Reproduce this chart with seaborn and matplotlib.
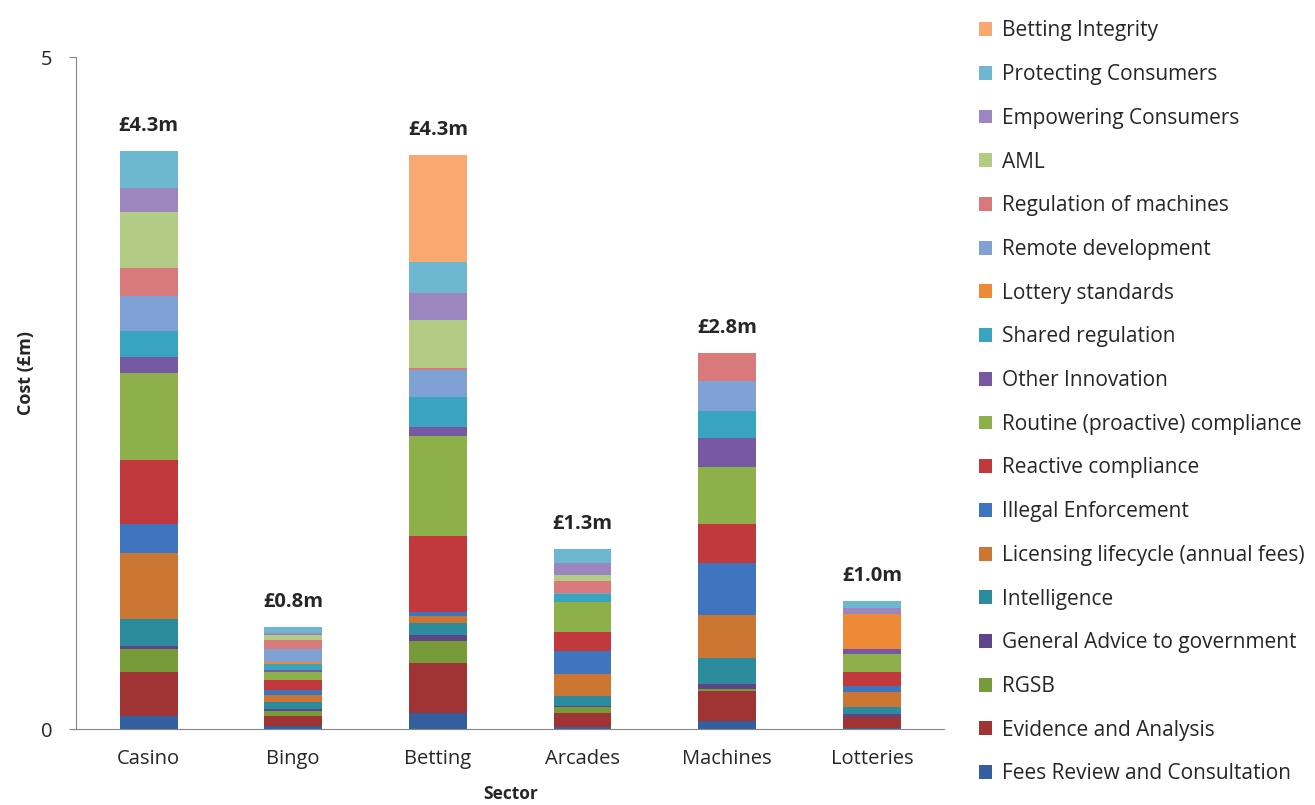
import pandas as pd
import numpy as np
import seaborn as sns
import matplotlib.pyplot as plt
from matplotlib.patches import Patch

sns.set_style('white')
plt.rcParams['font.family'] = ['Open Sans', 'DejaVu Sans']

sectors = ['Casino', 'Bingo', 'Betting', 'Arcades', 'Machines', 'Lotteries']
totals = ['£4.3m', '£0.8m', '£4.3m', '£1.3m', '£2.8m', '£1.0m']

# activities, top of the stack first (same order as the legend)
activities = ['Betting Integrity', 'Protecting Consumers', 'Empowering Consumers', 'AML',
              'Regulation of machines', 'Remote development', 'Lottery standards',
              'Shared regulation', 'Other Innovation', 'Routine (proactive) compliance',
              'Reactive compliance', 'Illegal Enforcement', 'Licensing lifecycle (annual fees)',
              'Intelligence', 'General Advice to government', 'RGSB',
              'Evidence and Analysis', 'Fees Review and Consultation']

colors = ['#F9A86F', '#6DB8D0', '#9C86BF', '#B2CC85', '#D8797B', '#7FA1D3', '#EE8A37',
          '#38A4BE', '#7758A2', '#8DB04A', '#C1393D', '#3F74BF', '#CB7632', '#2D8B9E',
          '#5D4587', '#789B3A', '#A03434', '#345F9F']

# cost (£m) per sector:   Casino  Bingo  Betting Arcades Machines Lotteries
betting_integrity  = [0.0,   0.0,   0.80,  0.0,   0.0,   0.0]
protecting         = [0.27,  0.05,  0.23,  0.10,  0.0,   0.05]
empowering         = [0.18,  0.01,  0.20,  0.09,  0.0,   0.045]
aml                = [0.42,  0.04,  0.36,  0.045, 0.0,   0.0]
reg_machines       = [0.21,  0.065, 0.015, 0.09,  0.21,  0.0]
remote_dev         = [0.26,  0.10,  0.20,  0.01,  0.22,  0.0]
lottery_standards  = [0.0,   0.015, 0.0,   0.0,   0.0,   0.26]
shared_regulation  = [0.19,  0.04,  0.22,  0.06,  0.20,  0.0]
other_innovation   = [0.12,  0.02,  0.07,  0.0,   0.22,  0.037]
routine_compliance = [0.65,  0.06,  0.74,  0.22,  0.42,  0.135]
reactive           = [0.47,  0.075, 0.57,  0.14,  0.29,  0.105]
illegal            = [0.22,  0.035, 0.03,  0.17,  0.39,  0.045]
licensing          = [0.49,  0.05,  0.05,  0.165, 0.32,  0.11]
intelligence       = [0.20,  0.05,  0.09,  0.075, 0.19,  0.052]
general_advice     = [0.02,  0.02,  0.04,  0.01,  0.04,  0.022]
rgsb               = [0.17,  0.037, 0.17,  0.045, 0.015, 0.0]
evidence           = [0.33,  0.075, 0.37,  0.105, 0.22,  0.08]
fees_review        = [0.10,  0.022, 0.12,  0.015, 0.065, 0.012]

series = [betting_integrity, protecting, empowering, aml, reg_machines, remote_dev,
          lottery_standards, shared_regulation, other_innovation, routine_compliance,
          reactive, illegal, licensing, intelligence, general_advice, rgsb,
          evidence, fees_review]

df = pd.DataFrame(np.array(series).T, index=sectors, columns=activities)

fig = plt.figure(figsize=(13.15, 8.05), dpi=100)
ax = fig.add_axes([0.058, 0.094, 0.66, 0.835])

# stacked bars: draw cumulative heights from the top layer down
for i, act in enumerate(activities):
    cum = df[activities[i:]].sum(axis=1)
    sns.barplot(x=sectors, y=cum.values, color=colors[i], width=0.4,
                linewidth=0, saturation=1, ax=ax)

stack_tot = df.sum(axis=1)
for i, lab in enumerate(totals):
    ax.text(i, stack_tot.iloc[i] + 0.11, lab, ha='center', va='bottom',
            fontsize=14.5, fontweight='bold')

ax.set_ylim(0, 5)
ax.set_xlim(-0.5, 5.5)
ax.set_yticks([0, 5])
ax.tick_params(axis='y', length=5, color='#868686', labelsize=14.5, left=True, pad=12)
ax.tick_params(axis='x', length=0, labelsize=14.5, pad=14)
ax.set_ylabel('Cost (£m)', fontsize=13, fontweight='bold')
ax.yaxis.set_label_coords(-0.047, 0.53)
ax.set_xlabel('Sector', fontsize=12.5, fontweight='bold', labelpad=12)
sns.despine(ax=ax)
for s in ['left', 'bottom']:
    ax.spines[s].set_color('#868686')

handles = [Patch(facecolor=c, edgecolor='none') for c in colors]
fig.legend(handles, activities, loc='upper left', bbox_to_anchor=(0.738, 0.985),
           frameon=False, fontsize=15, handlelength=0.65, handleheight=0.65,
           handletextpad=0.45, labelspacing=1.09, borderaxespad=0)

fig.savefig('out.png', dpi=100)
